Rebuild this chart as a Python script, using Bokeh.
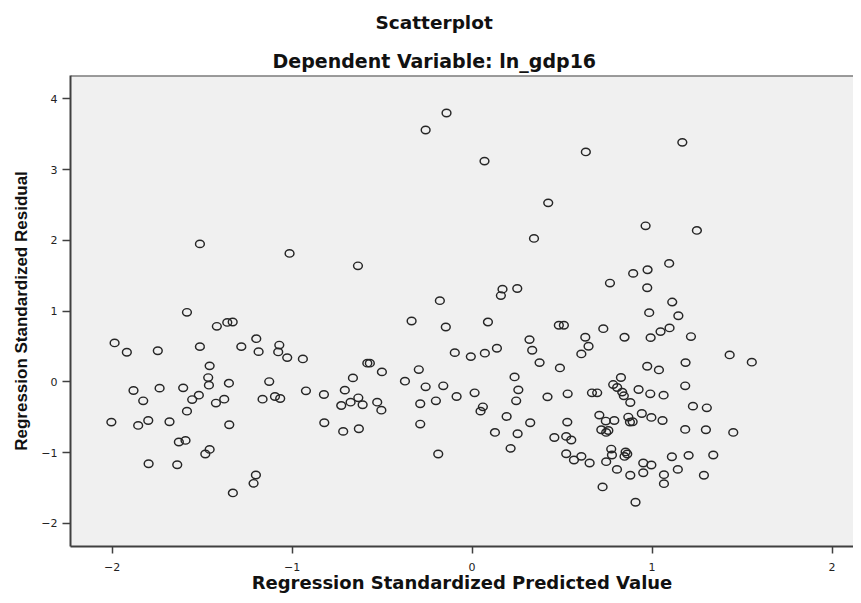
from bokeh.plotting import figure
from bokeh.models import Title, Range1d, FixedTicker, Span
from bokeh.embed import file_html
from bokeh.resources import INLINE

# Regression standardized predicted value (x) and standardized residual (y)
pred = [
    -0.142, -0.258, -1.512, -1.014, -0.634, -0.179, -1.584, -0.336, -0.146, -1.418,
    -1.36, -1.33, 1.168, 0.632, 0.069, 0.423, 0.964, 1.249, 0.344, 1.095,
    0.895, 0.975, 0.766, 0.973, 0.169, 0.16, 0.251, 1.112, 0.984, 1.146,
    0.088, 0.482, 0.51, 0.729, 1.097, 1.047,
    -1.986, -1.918, -1.746, -1.512, -1.282, -1.199, -1.186, -1.071, -1.077, -1.027,
    -0.94, -0.096, -1.458, -1.466, -1.462, -1.351, -1.881, -1.736, -1.605, -1.827,
    -1.555, -1.518, -1.423, -1.377, -1.584, -1.127, -1.164, -1.095, -1.066, -0.923,
    -0.823, -0.582, -0.568, -0.501, -0.662, -0.707, -0.727, -0.675, -0.632, -0.608,
    -0.527, -0.504, -0.373, -0.296, -0.258, -0.16, -0.288, -0.201, -0.086, -2.004,
    -1.855, -1.799, -1.681, -1.349, -0.821, -0.716, -0.629, -0.288, -1.629, -1.592,
    -1.482, -1.458, -1.797, -1.638, -0.188, -1.201, -1.214, -1.329,
    0.847, 0.992, 1.216, 0.319, 0.629, 0.334, 0.647, 0.607, -0.007, 0.071,
    0.138, 0.375, 0.488, 1.431, 1.554, 1.186, 0.973, 1.038, 0.236, 0.827,
    1.184, 0.014, 0.257, 0.245, 0.419, 0.531, 0.666, 0.695, 0.784, 0.806,
    0.834, 0.843, 0.879, 0.925, 0.99, 1.064, 1.227, 1.304, 0.06, 0.047,
    0.192, 0.323, 0.127, 0.253, 0.214, 0.529, 0.457, 0.523, 0.551, 0.523,
    0.566, 0.607, 0.653, 0.707, 0.743, 0.79, 0.718, 0.745, 0.757, 0.868,
    0.877, 0.892, 0.943, 0.996, 1.058, 1.184, 1.299, 1.451, 0.773, 0.777,
    0.853, 0.862, 0.847, 0.745, 0.805, 0.879, 0.951, 0.996, 0.951, 1.11,
    1.203, 1.34, 1.066, 1.066, 1.143, 1.288, 0.725, 0.908,
]
resid = [
    3.80, 3.56, 1.95, 1.815, 1.64, 1.147, 0.983, 0.86, 0.776, 0.785,
    0.84, 0.846, 3.385, 3.25, 3.12, 2.53, 2.205, 2.14, 2.027, 1.674,
    1.533, 1.584, 1.396, 1.33, 1.31, 1.22, 1.32, 1.128, 0.978, 0.935,
    0.846, 0.80, 0.80, 0.752, 0.762, 0.71,
    0.55, 0.419, 0.44, 0.498, 0.498, 0.61, 0.427, 0.52, 0.423, 0.343,
    0.324, 0.413, 0.226, 0.061, -0.047, -0.019, -0.122, -0.089, -0.085, -0.268,
    -0.25, -0.188, -0.30, -0.245, -0.414, 0.004, -0.245, -0.207, -0.235, -0.127,
    -0.179, 0.264, 0.264, 0.141, 0.056, -0.117, -0.334, -0.287, -0.226, -0.324,
    -0.287, -0.40, 0.01, 0.174, -0.07, -0.056, -0.31, -0.268, -0.207, -0.569,
    -0.616, -0.546, -0.564, -0.606, -0.578, -0.70, -0.663, -0.597, -0.85, -0.828,
    -1.02, -0.955, -1.157, -1.171, -1.02, -1.316, -1.434, -1.57,
    0.63, 0.625, 0.64, 0.597, 0.63, 0.447, 0.503, 0.395, 0.357, 0.405,
    0.475, 0.272, 0.197, 0.381, 0.278, 0.272, 0.221, 0.169, 0.07, 0.061,
    -0.056, -0.155, -0.113, -0.268, -0.212, -0.169, -0.155, -0.155, -0.038, -0.08,
    -0.145, -0.197, -0.292, -0.108, -0.169, -0.188, -0.343, -0.367, -0.353, -0.414,
    -0.489, -0.578, -0.715, -0.733, -0.94, -0.569, -0.786, -0.771, -0.822, -1.016,
    -1.104, -1.053, -1.147, -0.47, -0.554, -0.546, -0.677, -0.715, -0.687, -0.498,
    -0.569, -0.564, -0.447, -0.503, -0.546, -0.672, -0.677, -0.715, -0.95, -1.034,
    -0.99, -1.02, -1.054, -1.128, -1.237, -1.32, -1.147, -1.175, -1.284, -1.058,
    -1.039, -1.034, -1.312, -1.439, -1.237, -1.32, -1.485, -1.702,
]

x_ticks = [-2, -1, 0, 1, 2]
y_ticks = [-2, -1, 0, 1, 2, 3, 4]
x_lo, x_hi = -2.231, 2.119
y_lo, y_hi = -2.327, 4.330

p = figure(
    width=853, height=595,
    x_range=Range1d(x_lo, x_hi), y_range=Range1d(y_lo, y_hi),
    output_backend="svg", toolbar_location=None, title=None,
    min_border_left=70, min_border_right=0, min_border_top=75, min_border_bottom=48,
)
p.border_fill_color = "white"
p.background_fill_color = "#f0f0f0"
p.outline_line_color = None
p.grid.visible = False

# top edge of the plot frame (the right edge runs off the picture)
p.add_layout(Span(location=y_hi, dimension="width", line_color="#404040", line_width=2))

p.add_layout(Title(text="Dependent Variable: ln_gdp16", align="left", offset=202,
                   text_font="DejaVu Sans", text_font_style="bold",
                   text_font_size="19px", text_color="#111111", standoff=8), "above")
p.add_layout(Title(text="Scatterplot", align="left", offset=305, vertical_align="top",
                   text_font="DejaVu Sans", text_font_style="bold",
                   text_font_size="18.5px", text_color="#111111", standoff=18), "above")

p.ellipse(pred, resid, width=8.8, height=7.4, width_units="screen", height_units="screen",
          fill_color=None, line_color="#262626", line_width=1.45)

for ax in (p.xaxis[0], p.yaxis[0]):
    ax.axis_line_color = "#404040"
    ax.axis_line_width = 2
    ax.major_tick_line_color = "#404040"
    ax.major_tick_line_width = 1.5
    ax.major_tick_in = 0
    ax.minor_tick_line_color = None
    ax.major_label_text_font = "DejaVu Sans"
    ax.major_label_text_font_size = "11px"
    ax.major_label_text_color = "#222222"
    ax.axis_label_text_font_style = "bold"
    ax.axis_label_text_color = "#111111"

p.xaxis.ticker = FixedTicker(ticks=x_ticks)
p.yaxis.ticker = FixedTicker(ticks=y_ticks)
p.xaxis.major_tick_out = 7
p.yaxis.major_tick_out = 8
p.xaxis.major_label_standoff = 9
p.yaxis.major_label_standoff = 5

p.xaxis.axis_label = "Regression Standardized Predicted Value"
p.xaxis.axis_label_text_font = "DejaVu Sans"
p.xaxis.axis_label_text_font_size = "18px"
p.xaxis.axis_label_standoff = -2

p.yaxis.axis_label = "Regression Standardized Residual"
p.yaxis.axis_label_text_font = "Liberation Sans"
p.yaxis.axis_label_text_font_size = "17px"
p.yaxis.axis_label_standoff = 7

open("out.html", "w").write(file_html(p, INLINE))
